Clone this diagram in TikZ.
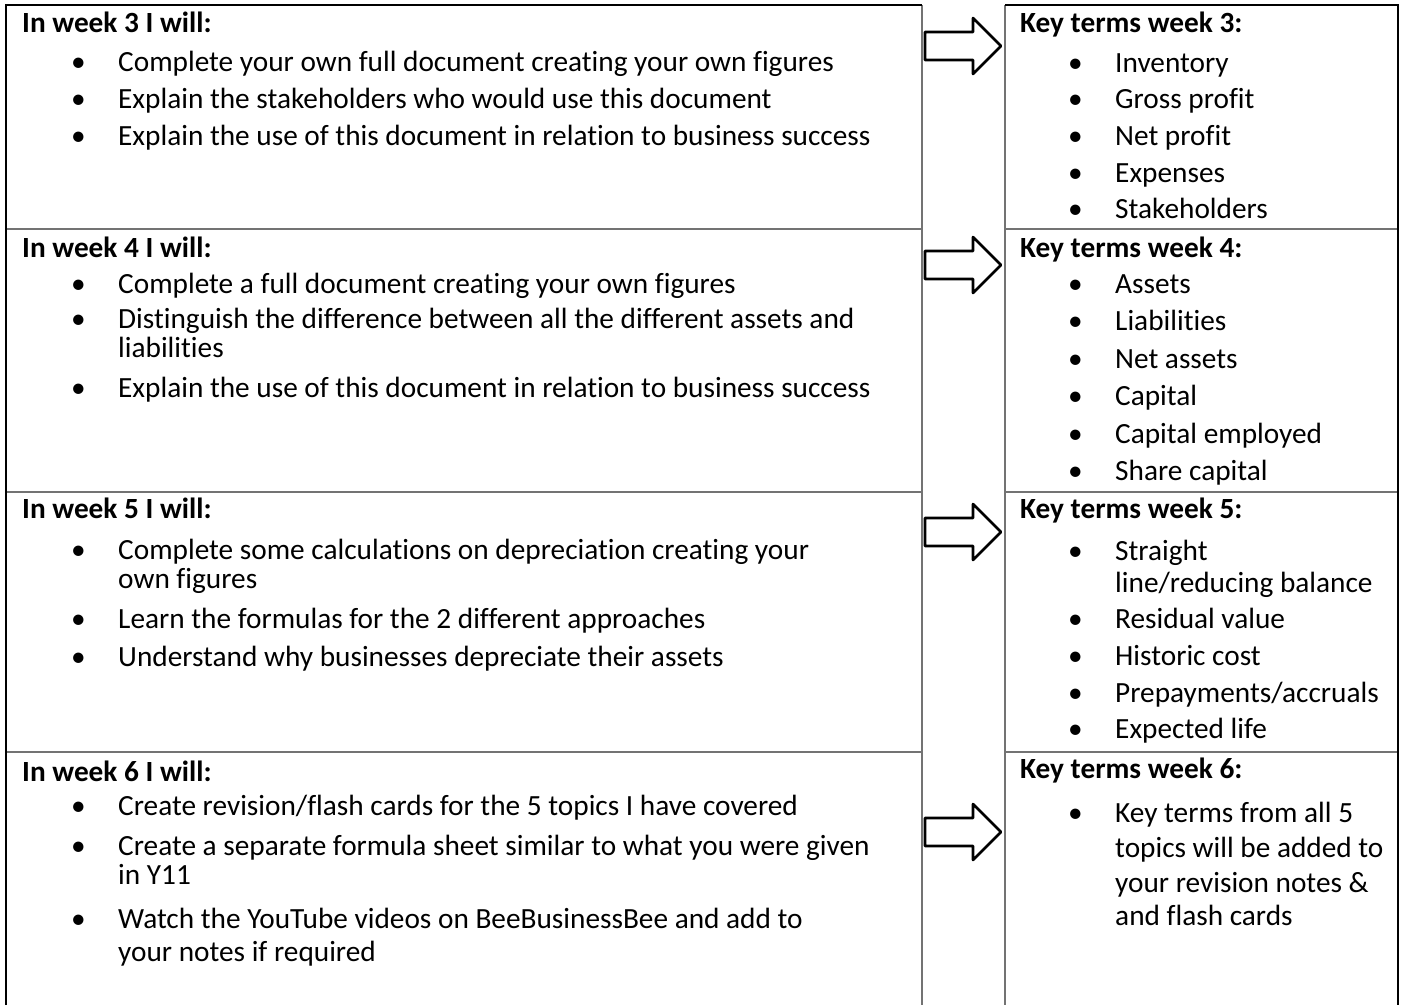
\documentclass[tikz,border=0pt]{standalone}
\usepackage{fontspec}
\setmainfont{Carlito}[Ligatures=NoCommon]
\usetikzlibrary{positioning}

\newcommand\bodyfont{\fontsize{29.3}{34}\selectfont}
\newcommand\bul{\makebox[47pt][l]{\textbullet}}
\newcommand\ind{\hspace*{47pt}}

\tikzset{
  head/.style={anchor=base west,inner sep=0pt,font=\bodyfont\bfseries},
  item/.style={anchor=base west,inner sep=0pt,font=\bodyfont},
  outer/.style={line width=2pt,black},
  rule/.style={line width=1.3pt,black!55},
  blockarrow/.pic={
    \draw[line width=2.6pt,line join=round]
      (-38,-14) -- (10,-14) -- (10,-28) -- (38,0) -- (10,28) -- (10,14)
      -- (-38,14) -- cycle;}
}

\begin{document}
\begin{tikzpicture}[x=1pt,y=-1pt]
  \useasboundingbox (0,0) rectangle (1404,1005);

  % table rules
  \foreach \r in {229,492,752} {
    \draw[rule] (6,\r) -- (922,\r);
    \draw[rule] (1005,\r) -- (1398,\r);
  }
  \draw[rule] (922,5) -- (922,1005);
  \draw[rule] (1005,5) -- (1005,1005);
  \draw[outer] (6,1005) -- (6,5) -- (922,5);
  \draw[outer] (1005,5) -- (1398,5) -- (1398,1005);

  % week 3
  \node[head] (w3) at (22,32) {In week 3 I will:};
  \foreach \y/\t [count=\i] in {
      71/{\bul Complete your own full document creating your own figures},
      108/{\bul Explain the stakeholders who would use this document},
      145/{\bul Explain the use of this document in relation to business success}}
    \node[item] (w3-\i) at (71,\y) {\t};
  \node[head] (k3) at (1020,32) {Key terms week 3:};
  \foreach \y/\t [count=\i] in {
      72/Inventory,108/Gross profit,145/Net profit,182/Expenses,218/Stakeholders}
    \node[item] (k3-\i) at (1068,\y) {\bul\t};

  % week 4
  \node[head] (w4) at (22,257) {In week 4 I will:};
  \foreach \y/\t [count=\i] in {
      293/{\bul Complete a full document creating your own figures},
      328/{\bul Distinguish the difference between all the different assets and},
      357/{\ind liabilities},
      397/{\bul Explain the use of this document in relation to business success}}
    \node[item] (w4-\i) at (71,\y) {\t};
  \node[head] (k4) at (1020,257) {Key terms week 4:};
  \foreach \y/\t [count=\i] in {
      293/Assets,330/Liabilities,368/Net assets,405/Capital,
      443/Capital employed,480/Share capital}
    \node[item] (k4-\i) at (1068,\y) {\bul\t};

  % week 5
  \node[head] (w5) at (22,518) {In week 5 I will:};
  \foreach \y/\t [count=\i] in {
      559/{\bul Complete some calculations on depreciation creating your},
      588/{\ind own figures},
      628/{\bul Learn the formulas for the 2 different approaches},
      666/{\bul Understand why businesses depreciate their assets}}
    \node[item] (w5-\i) at (71,\y) {\t};
  \node[head] (k5) at (1020,518) {Key terms week 5:};
  \foreach \y/\t [count=\i] in {
      560/{\bul Straight},592/{\ind line/reducing balance},
      628/{\bul Residual value},665/{\bul Historic cost},
      702/{\bul Prepayments/accruals},738/{\bul Expected life}}
    \node[item] (k5-\i) at (1068,\y) {\t};

  % week 6
  \node[head] (w6) at (22,781) {In week 6 I will:};
  \foreach \y/\t [count=\i] in {
      815/{\bul Create revision/flash cards for the 5 topics I have covered},
      855/{\bul Create a separate formula sheet similar to what you were given},
      884/{\ind in Y11},
      928/{\bul Watch the YouTube videos on BeeBusinessBee and add to},
      961/{\ind your notes if required}}
    \node[item] (w6-\i) at (71,\y) {\t};
  \node[head] (k6) at (1020,778) {Key terms week 6:};
  \foreach \y/\t [count=\i] in {
      822/{\bul Key terms from all 5},857/{\ind topics will be added to},
      892/{\ind your revision notes \&},925/{\ind and flash cards}}
    \node[item] (k6-\i) at (1068,\y) {\t};

  % arrows between the columns
  \foreach \y in {46,265,532,832}
    \pic at (963,\y) {blockarrow};
\end{tikzpicture}
\end{document}
